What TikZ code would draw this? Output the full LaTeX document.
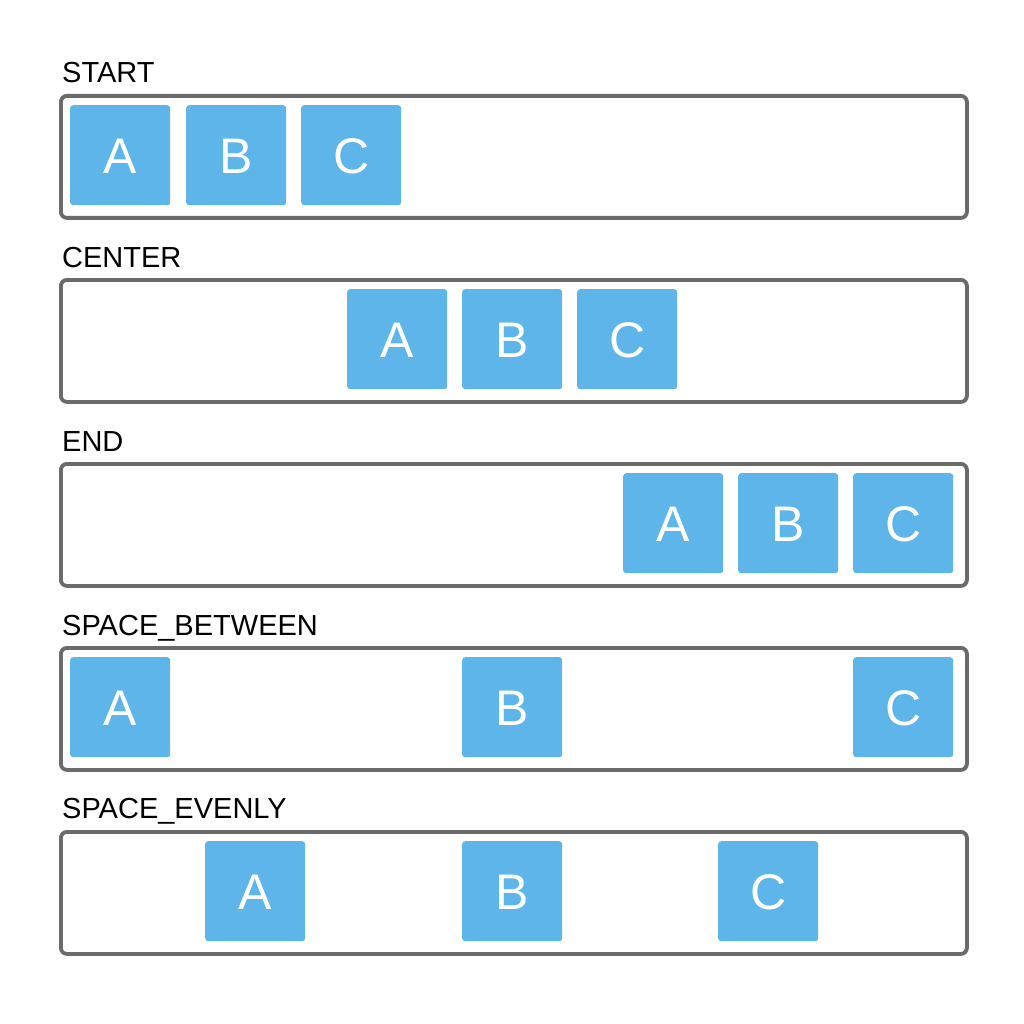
\documentclass[tikz,border=0pt]{standalone}
\usepackage{fontspec}
\setmainfont{Liberation Sans}
\definecolor{frame}{HTML}{6A6A6A}
\definecolor{blk}{HTML}{5DB5EA}
\begin{document}
\begin{tikzpicture}[x=1pt,y=-1pt,
  cont/.style={draw=frame,line width=3.8pt,rounded corners=6pt,fill=white,minimum width=906pt,minimum height=122pt,inner sep=0pt,anchor=north west},
  itm/.style={fill=blk,rounded corners=3pt,minimum width=100pt,minimum height=100pt,inner sep=0pt,text=white,font=\fontsize{50pt}{50pt}\selectfont,text height=36pt,text depth=0pt,anchor=north west},
  lbl/.style={anchor=base west,inner sep=0pt,font=\fontsize{29pt}{29pt}\selectfont,text=black}]
\useasboundingbox (0,0) rectangle (1024,1024);
\fill[white] (0,0) rectangle (1024,1024);
% row 1
\node[lbl] (l1) at (62,83) {START};
\node[cont] (c1) at (59,94) {};
\node[itm] (a1) at (70,105) {A};
\node[itm] (b1) at (186,105) {B};
\node[itm] (d1) at (301,105) {C};
% row 2
\node[lbl] (l2) at (62,267) {CENTER};
\node[cont] (c2) at (59,278) {};
\node[itm] (a2) at (347,289) {A};
\node[itm] (b2) at (462,289) {B};
\node[itm] (d2) at (577,289) {C};
% row 3
\node[lbl] (l3) at (62,451) {END};
\node[cont] (c3) at (59,462) {};
\node[itm] (a3) at (623,473) {A};
\node[itm] (b3) at (738,473) {B};
\node[itm] (d3) at (853,473) {C};
% row 4
\node[lbl] (l4) at (62,635) {SPACE\_BETWEEN};
\node[cont] (c4) at (59,646) {};
\node[itm] (a4) at (70,657) {A};
\node[itm] (b4) at (462,657) {B};
\node[itm] (d4) at (853,657) {C};
% row 5
\node[lbl] (l5) at (62,818) {SPACE\_EVENLY};
\node[cont] (c5) at (59,830) {};
\node[itm] (a5) at (205,841) {A};
\node[itm] (b5) at (462,841) {B};
\node[itm] (d5) at (718,841) {C};
\end{tikzpicture}
\end{document}
